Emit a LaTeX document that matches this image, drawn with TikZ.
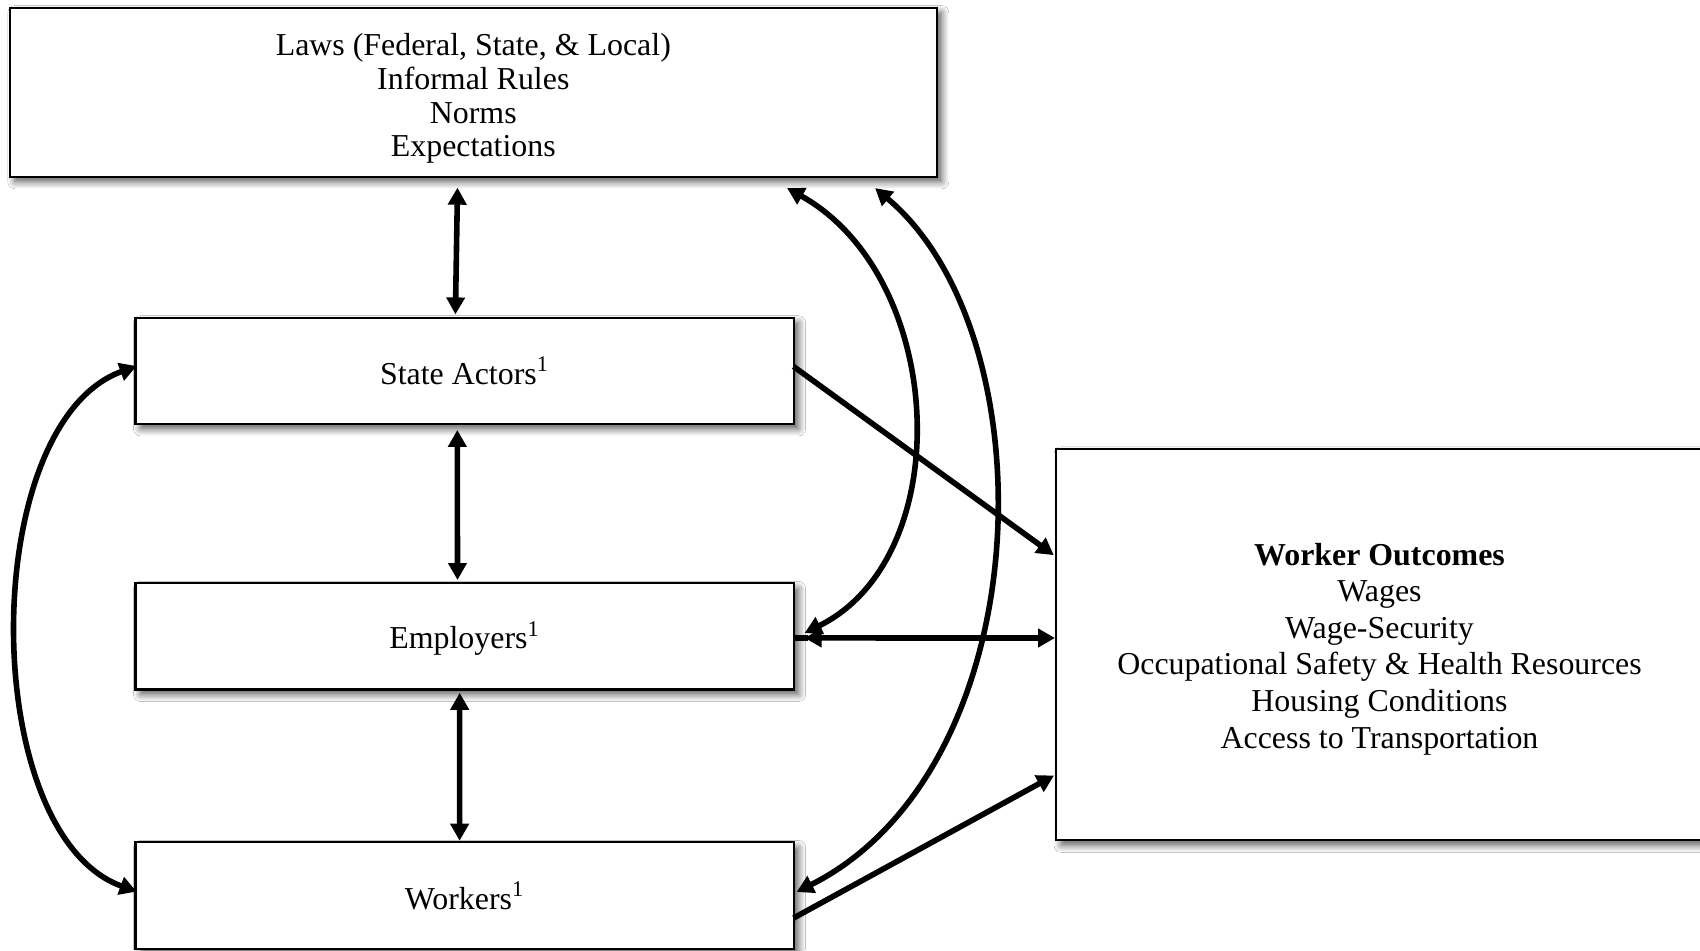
\documentclass[tikz,border=0pt]{standalone}
\usepackage{fontspec}
\setmainfont{Liberation Serif}
\usetikzlibrary{arrows.meta,calc,shadows.blur}
\begin{document}
\begin{tikzpicture}[x=0.5pt,y=-0.5pt,
  box/.style={draw=black, line width=1.05pt, fill=white, inner sep=0pt, outer sep=0pt,
    align=center,
    blur shadow={shadow xshift=2.5pt, shadow yshift=-2.5pt, shadow blur radius=3.5pt,
      shadow blur steps=8, shadow opacity=65},
    font=\fontsize{15.95pt}{16.85pt}\selectfont},
  label/.style={inner sep=0pt, align=center, font=\fontsize{15.95pt}{16.85pt}\selectfont},
  tip/.tip={Triangle[length=8.5pt,width=9pt]},
  wire/.style={line width=2.8pt},
  link/.style={wire, -tip},
  twoway/.style={wire, tip-tip}
]
\path[use as bounding box, clip] (0,0) rectangle (1700,950);
\fill[white] (0,0) rectangle (1700,950);

% institutional context
\node[box, minimum width=463.45pt, minimum height=84.55pt] (laws) at (473.3,92.2) {};
\node[label] (lawstext) at ($(laws.center)+(0,6.5)$)
  {Laws (Federal, State, \& Local)\\Informal Rules\\Norms\\Expectations};

% actors
\node[box, minimum width=329.05pt, minimum height=53.1pt] (state) at (464.5,370.8)
  {State Actors\textsuperscript{1}};
\node[box, minimum width=329.05pt, minimum height=53.1pt, text depth=1.2pt] (employers) at (464.5,636.4)
  {Employers\textsuperscript{1}};
\node[box, minimum width=329.05pt, minimum height=53.3pt] (workers) at (464.5,895.7)
  {Workers\textsuperscript{1}};

% outcomes
\node[box, minimum width=323.5pt, minimum height=195.75pt] (outcomes) at (1379.5,644.5) {};
\node[label, font=\fontsize{15.95pt}{18.3pt}\selectfont] (outcomestext) at ($(outcomes.center)+(0,4.5)$)
  {\textbf{Worker Outcomes}\\Wages\\Wage-Security\\Occupational Safety \& Health Resources\\Housing Conditions\\Access to Transportation};

% vertical links between the stacked boxes
\draw[twoway] ($(laws.south)+(-15.8,10.9)$) -- ($(state.north)+(-9.1,-3.3)$);
\draw[twoway] ($(state.south)+(-7.2,6)$) -- ($(employers.north)+(-7,-3.3)$);
\draw[twoway] ($(employers.south)+(-4.8,3.3)$) -- ($(workers.north)+(-4.9,-1.7)$);

% state actors <-> workers, around the left side
\draw[twoway] ($(state.west)+(1.2,-4.8)$)
  .. controls ($(state.west)+(-158,53.2)$) and ($(workers.west)+(-158,-62.1)$)
  .. ($(workers.west)+(1.2,-4.1)$);

% links into the outcomes box
\draw[link] ($(state.east)+(0,-4.3)$) -- ($(outcomes.west)+(-2.2,-89.4)$);
\draw[wire] ($(employers.east)+(0,1.5)$) -- ($(employers.east)+(14,1.5)$);
\draw[twoway] ($(employers.east)+(11,1.5)$) -- ($(outcomes.west)+(-1,-6.5)$);
\draw[link] ($(workers.east)+(0,22.3)$) -- ($(outcomes.west)+(-2,131)$);

% employers and workers back up to the institutional context
\draw[twoway] ($(employers.east)+(11,-3.4)$)
  .. controls ($(employers.east)+(165,-79.5)$) and ($(laws.south east)+(10,100.4)$)
  .. ($(laws.south east)+(-149.7,11.3)$);
\draw[twoway] ($(workers.east)+(3,-3.7)$)
  .. controls ($(workers.east)+(247,-126.7)$) and ($(laws.south east)+(114,159.1)$)
  .. ($(laws.south east)+(-61.7,11.3)$);
\end{tikzpicture}
\end{document}
